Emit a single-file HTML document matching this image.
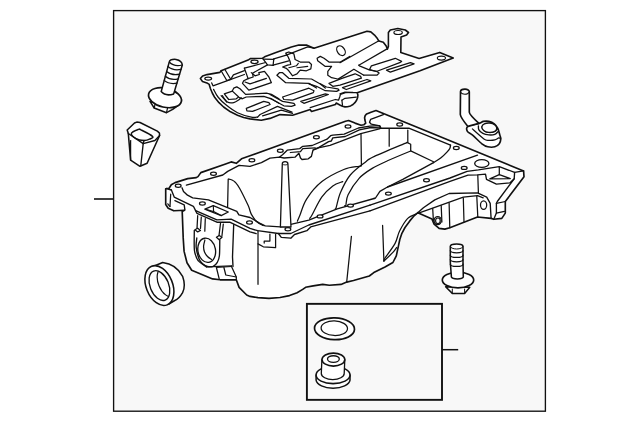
<!DOCTYPE html>
<html><head><meta charset="utf-8"><title>Oil pan</title>
<style>html,body{margin:0;padding:0;background:#fff;}svg{display:block}</style></head>
<body><svg width="640" height="422" viewBox="0 0 640 422">
<rect x="0" y="0" width="640" height="422" fill="#ffffff"/>
<g stroke="#111111" stroke-linejoin="round" stroke-linecap="round" fill="none">
<rect x="113.6" y="10.6" width="431.8" height="400.6" fill="#f8f8f8" stroke-width="1.35" stroke-linejoin="miter"/>
<path d="M94 199 H113.6" stroke-width="1.6" stroke-linecap="butt"/>
<path d="M442 349.7 H458.2" stroke-width="1.5" stroke-linecap="butt"/>
<rect x="306.9" y="303.85" width="135.1" height="96" fill="none" stroke-width="1.9" stroke-linejoin="miter"/>
<ellipse cx="334.5" cy="328.7" rx="20.0" ry="10.9" fill="#ffffff" stroke-width="1.7" transform="rotate(2 334.5 328.7)"/>
<ellipse cx="334.3" cy="328.2" rx="13.2" ry="7.3" fill="#ffffff" stroke-width="1.25" transform="rotate(2 334.3 328.2)"/>
<path d="M316.1 375 V380.2 A17 8.6 0 0 0 350 380.2 V375 Z" fill="#ffffff" stroke-width="1.5"/>
<ellipse cx="333.05" cy="375" rx="16.95" ry="8.6" fill="#ffffff" stroke-width="1.55"/>
<path d="M321.9 359.6 L321.3 373.5 A11.4 6 0 0 0 344.2 373.5 L344.8 359.6 Z" fill="#ffffff" stroke-width="1.3"/>
<ellipse cx="333.4" cy="359.6" rx="11.4" ry="6.5" fill="#ffffff" stroke-width="1.55"/>
<ellipse cx="333.4" cy="359.0" rx="5.9" ry="3.3" fill="#ffffff" stroke-width="1.35"/>
<path d="M445.6 286.8 L452.3 293.4 H464.6 L469.8 287.2 Z" fill="#ffffff" stroke-width="1.5"/>
<path d="M452.3 289 V293.4 M464.6 289 V293.4" stroke-width="1"/>
<ellipse cx="458" cy="280" rx="15.7" ry="7.8" fill="#ffffff" stroke-width="1.65"/>
<path d="M450.3 246.4 L450.3 262 L451.4 277 A6 2.2 0 0 0 463.3 277 L463 262 L463 246.4 A6.35 2.4 0 0 0 450.3 246.4 Z" fill="#ffffff" stroke-width="1.55"/>
<path d="M450.3 246.6 A6.35 2.4 0 0 0 463 246.6" stroke-width="1"/>
<path d="M450.3 250.6 A6.35 2.2 0 0 0 463 250.6" stroke-width="1.25"/>
<path d="M450.3 255.2 A6.35 2.2 0 0 0 463 255.2" stroke-width="1.25"/>
<path d="M450.3 259.6 A6.35 2.2 0 0 0 463 259.6" stroke-width="1.25"/>
<path d="M450.3 264.2 A6.35 2.2 0 0 0 463 264.2" stroke-width="1.25"/>
<path d="M150 101.4 L154.2 108 L166.5 112.7 L172.7 109.4 L177.5 106 Z" fill="#ffffff" stroke-width="1.5"/>
<path d="M155.2 103.7 L154.2 108 M167.5 108.2 L166.5 112.7" stroke-width="1.2"/>
<ellipse cx="165.0" cy="97.7" rx="16.8" ry="9.5" fill="#ffffff" stroke-width="1.7" transform="rotate(13 165.0 97.7)"/>
<path d="M169.3 61.9 L161.2 91.6 Q165.5 96.6 173.7 93.9 L182.3 65 Q182 60.5 176 59.4 Q170 59 169.3 61.9 Z" fill="#ffffff" stroke-width="1.55"/>
<path d="M169.3 62 Q174 67 182.2 65" stroke-width="1.2"/>
<path d="M168.0 66.5 Q173 71 181.0 69.4" stroke-width="1.25"/>
<path d="M166.6 71.5 Q172 76 179.6 74.2" stroke-width="1.25"/>
<path d="M165.3 76.2 Q170.5 80.6 178.2 78.8" stroke-width="1.25"/>
<path d="M164.2 80.4 Q169 84.6 177 83.2" stroke-width="1.25"/>
<path d="M127.2 130.0 L134.5 123 L136.8 122.1 L140 122.5 L157.3 131.1 L159.4 133 L159.6 135.5 L147.1 163.2 L140 166.3 L130.6 160.1 L128.3 133.5 Z" fill="#ffffff" stroke-width="1.55" />
<path d="M131.4 133.3 C131.8 131.8 136.7 130.0 138.3 129.4 C139.9 128.8 138.6 128.7 141 129.9 C143.4 131.1 151.2 134.9 152.6 136.4 C154.0 137.9 150.9 138.5 149.5 139.2 C148.1 139.9 146.2 140.6 144 140.5 C141.8 140.4 138.1 139.8 136 138.6 C133.9 137.4 131.0 134.8 131.4 133.3 Z" fill="none" stroke-width="1.45" />
<path d="M128.3 133.5 L143.2 143.6 L154.9 140.5 L159.6 135.5" fill="none" stroke-width="1.35" />
<path d="M143.2 143.6 L140.8 165.6" fill="none" stroke-width="1.35" />
<path d="M144 140.5 L143.2 143.6" fill="none" stroke-width="1.35" />
<path d="M130.6 140.5 L130.6 160.1" fill="none" stroke-width="1.25" />
<path d="M150.5 267.5 L162.7 262.5 Q176 264 182.6 276.3 Q186 286 182.6 292.7 Q179 299 174.8 300.5 L168.4 304.3 Z" fill="#ffffff" stroke-width="1.5"/>
<ellipse cx="159.4" cy="285.6" rx="13.2" ry="20.8" fill="#ffffff" stroke-width="1.55" transform="rotate(-22 159.4 285.6)"/>
<ellipse cx="159.4" cy="285.6" rx="9.3" ry="15.6" fill="#ffffff" stroke-width="1.35" transform="rotate(-22 159.4 285.6)"/>
<clipPath id="sealclip"><ellipse cx="159.4" cy="285.6" rx="9.3" ry="15.6" transform="rotate(-22 159.4 285.6)"/></clipPath>
<g clip-path="url(#sealclip)"><ellipse cx="159.4" cy="285.6" rx="9.3" ry="15.6" transform="translate(8.2 -3.4) rotate(-22 159.4 285.6)" stroke-width="1.2" transform-origin="0 0"/></g>
<path d="M467.9 126.4 C466.0 127.7 466.6 129.9 467.4 131.4 C468.2 132.9 470.5 133.3 472.9 135.4 C475.3 137.5 479.4 141.9 481.9 143.8 C484.4 145.7 485.6 146.3 487.8 146.8 C490.0 147.3 492.9 147.3 494.8 146.8 C496.7 146.3 498.3 145.1 499.3 143.8 C500.3 142.5 500.7 140.4 500.8 138.9 C500.9 137.4 500.3 136.7 499.8 134.9 C499.3 133.2 498.7 130.2 497.8 128.4 C496.9 126.6 495.8 125.1 494.3 123.9 C492.8 122.7 490.6 121.8 488.8 121.4 C487.0 121.0 485.0 121.1 483.4 121.4 C481.8 121.7 481.5 122.6 478.9 123.4 C476.3 124.2 469.8 125.1 467.9 126.4 Z" fill="#ffffff" stroke-width="1.65" />
<path d="M460.5 91.6 L460.3 114.5 Q460.6 117.5 467.9 126.4 L478.9 123.4 Q469.4 114.5 469.3 112.2 L469.3 91.8 A4.4 2.6 0 0 0 460.5 91.6 Z" fill="#ffffff" stroke-width="1.65"/>
<path d="M460.6 92.2 C460.9 92.5 461.8 93.5 462.5 93.8 C463.2 94.1 464.2 94.2 465 94.2 C465.8 94.2 466.8 94.0 467.5 93.7 C468.2 93.4 468.9 92.5 469.2 92.3" fill="none" stroke-width="1.15" />
<path d="M472.4 128.9 C474.3 130.6 481.2 137.0 483.9 138.9 C486.6 140.8 487.0 140.1 488.8 140.3 C490.6 140.5 493.1 140.3 494.8 139.9 C496.5 139.5 497.8 138.1 498.8 137.9 C499.8 137.7 500.3 138.5 500.6 138.6" fill="none" stroke-width="1.25" />
<path d="M478.4 125.9 C478.5 126.6 478.1 128.7 478.9 129.9 C479.6 131.2 481.2 132.6 482.9 133.4 C484.5 134.2 486.8 134.7 488.8 134.9 C490.8 135.1 493.2 135.0 494.8 134.4 C496.4 133.8 497.7 131.9 498.3 131.4" fill="none" stroke-width="1.35" />
<path d="M481.9 126.9 C482.2 127.5 482.8 129.5 483.9 130.4 C485.0 131.3 487.0 132.2 488.8 132.4 C490.6 132.6 493.4 132.0 494.8 131.4 C496.2 130.8 496.9 129.3 497.3 128.9" fill="none" stroke-width="1.35" />
<ellipse cx="489.3" cy="127.7" rx="7.5" ry="4.7" fill="#ffffff" stroke-width="1.35" transform="rotate(6 489.3 127.7)"/>
<path d="M171.3 184.8 L175.1 182.6 L187.7 178.6 L196.3 177.6 L198 176.6 L200.8 172.6 L224.9 164.2 L231.1 161.9 L236.3 163.3 L241.5 158.8 L250 155.8 L345.5 121.2 L348.6 120.5 L355 123.1 L361 125.2 L364 124.7 L365.7 123.1 L364.9 120 L364.6 117.8 L365.2 115.5 L366.7 113.9 L371 112.2 L376 110.5 L430 132.6 L523.6 171 L524 176.7 L505.3 201.5 L505.3 213.1 L501.8 218.4 L493.8 219.3 L491.1 218.4 L477.5 217 L449.8 227.7 L444.8 229.1 L439.1 228.4 L434.1 224.1 L432 219.1 L417.8 212.7 L413.5 216.5 L409.8 220.9 L405 227.5 L401.9 233.3 L399.8 239.5 L398.5 245.6 L396.3 255.8 L392.9 262.5 L385 267 L373.8 272.6 L369.3 276 L353.5 280.5 L346.7 282.1 L341 284.4 L329.3 285.2 L322.7 284.4 L313.2 285.9 L305.6 287.3 L302.7 289.4 L297.1 292.7 L289.5 295.6 L280 297.5 L269 298.4 L258 297.6 L250 296.4 L246.7 295 L239.1 287.4 L236.3 279.8 L220.1 279.8 L212.6 278.9 L191.7 270.3 L187 262.7 L184.1 251.4 L183.2 237.9 L182.2 211.4 L184.5 210.2 L173.8 210.8 L168.2 208.3 L165.7 204.5 L165.7 188.8 L169.1 188.2 Z" fill="#ffffff" stroke-width="1.65" />
<path d="M171.4 190 L172.8 193.5 L174.2 197.1 L193.4 206.3 L195.6 210.6 L216.9 219.8 L231.1 219.1 L250 228.4 L257.6 230.7 L278.4 233.5 L290.8 233.5 L308.8 225 L370 205.1" fill="none" stroke-width="1.35" />
<path d="M174.9 200.6 L184.2 204.9 L184.9 209.9" fill="none" stroke-width="1.35" />
<path d="M195.6 210.6 L197 213.4 L216.9 222.2 L229.7 222.2 L250 231.9 L256.2 233.6" fill="none" stroke-width="1.35" />
<path d="M166.4 188.5 L171.4 190" fill="none" stroke-width="1.35" />
<path d="M170.7 194.2 L170 206.3" fill="none" stroke-width="1.25" />
<path d="M167.8 203.8 L170 206.6" fill="none" stroke-width="1.25" />
<path d="M204.8 209.2 L213.3 205.6 L228.3 212 L221.2 215.6 Z" fill="none" stroke-width="1.25" />
<path d="M213.3 205.6 L213.6 211.6 L221.2 215.6" fill="none" stroke-width="1.15" />
<path d="M213.6 211.6 L206.5 209.5" fill="none" stroke-width="1.15" />
<path d="M278.4 233.5 L281.3 237.3 L290.8 238.2 L294.5 234.5 L306.9 230.7 L310.7 226.9 L370 210.8" fill="none" stroke-width="1.35" />
<path d="M186.4 185.1 L222.8 175 L227.7 171.4 L239.1 165.3 L250 166.4 L261.4 162.6 L270 158.2 L279.4 157.2 L284.1 158 L295 157.2 L298.9 153.3 L300.5 158 L302 159.5 L308.3 158.8 L311.4 156.4 L313 150.2 L316.9 148.6 L328.6 141.6 L331.3 141 L332.8 137.9 L345.2 136.5 L359.4 129.8 L370.8 127.5 L380.2 128" fill="none" stroke-width="1.35" />
<path d="M279.4 157.2 L282.5 154.8 L287.2 150.2 L299.7 148.6 L302.8 146.3 L312.2 145.5 L327 139.2 L330.6 135.7 L332.8 135.1 L344.2 134.1 L358.4 128 L369.8 126.1 L379.3 125.6 L380.7 127.5" fill="none" stroke-width="1.35" />
<path d="M290.3 152.5 L300.5 151.7 L302.8 148.6 L315.3 147.8" fill="none" stroke-width="1.25" />
<path d="M313.3 149.8 L317.1 148.1 L330 145.3 L340 141.7 L360.8 133.6 L379.3 128.9 L380.3 128.4" fill="none" stroke-width="1.25" />
<path d="M182 187.8 L183.5 191.4 L187.5 195.2 L192.7 197.8 L208.4 199.9 L236.8 211.3 L238.9 214.9 L250 217.5 L259.5 223.1 L265.2 225.9 L280.3 226.9 L308.8 220.2 L337.2 208.9 L374.1 198.5" fill="none" stroke-width="1.35" />
<path d="M228.2 179.2 L227.6 207" fill="none" stroke-width="1.25" />
<path d="M228.6 179.1 C229.2 179.2 230.8 179.4 232 180 C233.2 180.6 234.2 181.1 235.5 182.5 C236.8 183.9 237.6 184.7 239.7 188.5 C241.8 192.3 246.2 201.3 248.2 205.6 C250.1 209.9 249.9 211.7 251.4 214.4 C252.9 217.1 255.2 220.2 257.2 222 C259.2 223.8 262.3 224.9 263.3 225.5" fill="none" stroke-width="1.25" />
<path d="M282.3 163.8 L280.4 227 L291 227 L287.9 163.8 A2.8 2.2 0 0 0 282.3 163.8 Z" fill="#ffffff" stroke-width="1.3"/>
<path d="M282.4 164 A2.8 1.3 0 0 0 287.8 164" stroke-width="0.9"/>
<ellipse cx="178.2" cy="185.7" rx="2.9" ry="1.6" fill="#ffffff" stroke-width="1.25"/>
<ellipse cx="213.5" cy="173.7" rx="2.9" ry="1.6" fill="#ffffff" stroke-width="1.25"/>
<ellipse cx="251.9" cy="160.3" rx="2.9" ry="1.6" fill="#ffffff" stroke-width="1.25"/>
<ellipse cx="280.3" cy="150.8" rx="2.9" ry="1.6" fill="#ffffff" stroke-width="1.25"/>
<ellipse cx="316.4" cy="137.3" rx="2.9" ry="1.6" fill="#ffffff" stroke-width="1.25"/>
<ellipse cx="348" cy="126.5" rx="2.9" ry="1.6" fill="#ffffff" stroke-width="1.25"/>
<ellipse cx="399.7" cy="124.4" rx="2.9" ry="1.6" fill="#ffffff" stroke-width="1.25"/>
<ellipse cx="456.3" cy="148" rx="2.9" ry="1.6" fill="#ffffff" stroke-width="1.25"/>
<ellipse cx="426.5" cy="180.2" rx="2.9" ry="1.6" fill="#ffffff" stroke-width="1.25"/>
<ellipse cx="249.5" cy="222.5" rx="2.9" ry="1.6" fill="#ffffff" stroke-width="1.25"/>
<ellipse cx="287.9" cy="229.3" rx="2.9" ry="1.6" fill="#ffffff" stroke-width="1.25"/>
<ellipse cx="320.1" cy="216.4" rx="2.9" ry="1.6" fill="#ffffff" stroke-width="1.25"/>
<ellipse cx="350.5" cy="205.6" rx="2.9" ry="1.6" fill="#ffffff" stroke-width="1.25"/>
<ellipse cx="202.4" cy="203.5" rx="2.9" ry="1.6" fill="#ffffff" stroke-width="1.25"/>
<ellipse cx="388.4" cy="193.6" rx="2.9" ry="1.6" fill="#ffffff" stroke-width="1.25"/>
<ellipse cx="464.2" cy="167.9" rx="2.9" ry="1.6" fill="#ffffff" stroke-width="1.25"/>
<ellipse cx="481.8" cy="163.5" rx="7.1" ry="3.9" fill="#ffffff" stroke-width="1.35"/>
<path d="M297.4 221.2 C297.8 220.2 298.5 218.7 300 215 C301.5 211.3 303.0 204.7 306.6 199.1 C310.2 193.5 315.7 186.5 321.9 181.6 C328.1 176.7 337.6 172.1 343.8 169.5 C350.0 166.9 356.2 166.9 359.1 166.3 C362.0 165.7 361.0 165.9 361.4 165.8" fill="none" stroke-width="1.25" />
<path d="M309.7 218.3 C310.1 217.8 310.0 218.6 312 215 C314.0 211.4 318.4 201.8 321.9 196.9 C325.4 192.1 329.3 188.5 332.8 185.9 C336.3 183.3 341.1 182.3 342.7 181.6" fill="none" stroke-width="1.25" />
<path d="M335.3 208.9 C335.4 208.7 335.2 210.5 336.1 207.8 C337.0 205.1 338.1 198.0 340.5 192.5 C342.9 187.0 346.1 180.1 350.3 175 C354.5 169.9 361.6 165.0 365.6 161.9 C369.6 158.8 367.5 159.6 374.4 156.4 C381.3 153.2 401.5 144.9 406.9 142.6" fill="none" stroke-width="1.25" />
<path d="M344.8 205.6 C345.0 205.5 345.3 206.8 345.9 205.0 C346.4 203.2 345.9 199.1 348.1 194.7 C350.3 190.2 355.1 182.7 359.1 178.3 C363.1 173.9 367.5 171.3 372.2 168.4 C376.9 165.5 381.1 163.7 387.5 160.8 C393.9 157.9 406.8 152.6 410.7 151" fill="none" stroke-width="1.25" />
<path d="M258 230.9 L258 284.3" fill="none" stroke-width="1.25" />
<path d="M351.4 236.4 L346.7 282.1" fill="none" stroke-width="1.25" />
<path d="M374.1 198.5 L375.5 198 L379.9 191.4 L387.5 187 L477.5 155.2" fill="none" stroke-width="1.35" />
<path d="M370 205.1 L450 178 L467.1 171.3 L478.4 169.9 L499.3 166.6 L514.6 172.4 L523.6 170.8" fill="none" stroke-width="1.35" />
<path d="M370 210.8 L450 181.3 L468 175.1 L477.5 174.8 L485.5 174.2 L486.5 179.4 L496.4 184.1 L509.8 182.9 L514.2 178.8 L514.6 172.4" fill="none" stroke-width="1.35" />
<path d="M514.2 178.8 L497.3 201.5 L496.4 203.3 L496.4 213.1 L493.8 219.3" fill="none" stroke-width="1.35" />
<path d="M496.4 203.3 L505.3 201.5" fill="none" stroke-width="1.25" />
<path d="M496.4 213.1 L504.4 211.4" fill="none" stroke-width="1.25" />
<path d="M489.8 178.9 L499.3 174.6 L510.3 178.6 Z" fill="none" stroke-width="1.25" />
<path d="M499.3 167 L499.3 174.6" fill="none" stroke-width="1.25" />
<path d="M383.4 114.6 L370.6 119.4 L369.5 122.2 L371.3 124.2 L379.9 125.9 L380.3 128.2 L408.8 128.2 L450.5 145.2" fill="none" stroke-width="1.35" />
<path d="M450.5 145.2 C450.4 145.8 450.4 147.3 449.8 148.5 C449.2 149.7 448.2 150.8 446.7 152.4 C445.2 154.0 443.2 156.1 441 157.8 C438.8 159.5 434.8 161.8 433.5 162.6" fill="none" stroke-width="1.35" />
<path d="M433.5 162.6 L402.8 179.4 L387.5 187" fill="none" stroke-width="1.35" />
<path d="M361 133.8 L361.4 165.6" fill="none" stroke-width="1.25" />
<path d="M389.2 128.7 L389.2 146.2" fill="none" stroke-width="1.25" />
<path d="M407.8 130.1 L407.8 142.4" fill="none" stroke-width="1.25" />
<path d="M406.9 142.4 L410.7 144.3 L410.7 150.9 L433.5 161.8" fill="none" stroke-width="1.25" />
<path d="M417.8 212.7 L423.4 207.8 L434.8 199.9 L449.1 193.5 L477.5 192.8 L486.7 197.1 L490.2 203.3 L491.1 218.4" fill="none" stroke-width="1.35" />
<path d="M417.8 213.4 L433.4 207.8 L463.3 197.1 L477.5 195.7 L483.2 197.8" fill="none" stroke-width="1.25" />
<path d="M477.8 175.2 L478.4 192.7" fill="none" stroke-width="1.25" />
<path d="M432.7 208.5 L433.4 220.6" fill="none" stroke-width="1.25" />
<path d="M441.2 205.6 L441.9 222" fill="none" stroke-width="1.25" />
<path d="M449.1 202.8 L449.8 227.7" fill="none" stroke-width="1.25" />
<path d="M463.3 197.8 L464 222" fill="none" stroke-width="1.25" />
<path d="M476.8 196.4 L477.8 217" fill="none" stroke-width="1.25" />
<ellipse cx="437.7" cy="220.6" rx="3.6" ry="4.1" fill="#ffffff" stroke-width="1.25"/>
<ellipse cx="437.9" cy="220.8" rx="2.3" ry="2.8" fill="#ffffff" stroke-width="1.15"/>
<ellipse cx="483.6" cy="205.1" rx="3.1" ry="4.3" fill="#ffffff" stroke-width="1.25"/>
<path d="M417.8 213.2 C416.1 214.1 410.5 215.6 407.5 218.6 C404.5 221.6 401.7 226.9 399.6 231 C397.5 235.1 397.5 238.9 395.1 243.4 C392.7 247.9 386.9 255.1 385 258 C383.1 260.9 384.1 260.3 383.9 260.8" fill="none" stroke-width="1.25" />
<path d="M383.9 261 C385.4 259.6 390.8 254.7 392.9 252.4 C395.0 250.2 396.0 248.3 396.6 247.5" fill="none" stroke-width="1.25" />
<path d="M382.6 225.4 L383.9 261" fill="none" stroke-width="1.25" />
<path d="M197.7 215.6 L197 228.4" fill="none" stroke-width="1.25" />
<path d="M201.3 217 L200.5 228.4" fill="none" stroke-width="1.25" />
<path d="M220.5 223.4 L219 235.5" fill="none" stroke-width="1.25" />
<path d="M223.3 224.1 L221.9 236.2" fill="none" stroke-width="1.25" />
<path d="M194.9 229.8 L197.7 228.2 L200.5 230.5 L197.7 231.9 Z" fill="none" stroke-width="1.25" />
<path d="M216.4 237.3 L219.2 235.4 L222 237.3 L219.2 239.8 Z" fill="none" stroke-width="1.25" />
<path d="M194.3 230.3 C194.3 232.8 194.1 241.3 194.2 245 C194.3 248.7 194.1 249.9 194.8 252.5 C195.5 255.1 196.2 258.3 198.2 260.7 C200.1 263.1 205.1 265.9 206.5 266.9" fill="none" stroke-width="1.35" />
<path d="M206.5 266.9 L231.5 265.8" fill="none" stroke-width="1.35" />
<path d="M196.8 238 C196.7 239.6 195.8 243.9 196.2 247.4 C196.6 250.9 198.0 256.2 199.1 259 C200.2 261.8 201.6 262.8 203 264 C204.4 265.2 205.7 266.1 207.4 266.5 C209.1 266.9 211.5 267.0 213.2 266.3 C214.8 265.6 216.3 264.2 217.3 262.4 C218.3 260.6 219.0 259.4 219.4 255.7 C219.8 252.0 219.7 242.6 219.8 240" fill="none" stroke-width="1.35" />
<path d="M233.7 224.6 L232.5 256.9 L233 266.5" fill="none" stroke-width="1.35" />
<ellipse cx="206.7" cy="250.3" rx="8.8" ry="12.2" fill="#ffffff" stroke-width="1.35" transform="rotate(-10 206.7 250.3)"/>
<path d="M204.9 240 C204.7 241.0 203.7 244.0 203.6 246 C203.5 248.0 203.8 250.2 204.5 252 C205.2 253.8 206.3 255.2 207.5 256.5 C208.7 257.8 210.8 259.0 211.5 259.5" fill="none" stroke-width="1.25" />
<path d="M216.4 267.5 L231.5 266.5" fill="none" stroke-width="1.25" />
<path d="M216.4 267.5 L219.2 278.9" fill="none" stroke-width="1.25" />
<path d="M223.9 267.5 L225.8 275 L236.3 277" fill="none" stroke-width="1.25" />
<path d="M231.5 266.5 L236.3 277 L236.3 279.8" fill="none" stroke-width="1.25" />
<path d="M275.6 234 L275.6 247.7 L263.3 246.8 L258 243.9" fill="none" stroke-width="1.25" />
<path d="M269.9 234 L269.9 241.1 L264.2 241.1 L264.2 243" fill="none" stroke-width="1.25" />
<path d="M205.3 218.6 L204.8 231.2" fill="none" stroke-width="1.25" />
<path d="M200.4 78.6 L202.6 75.9 L207 74.6 L219.9 72.4 L221.1 70.7 L248.1 60.1 L250.3 58.6 L262.3 58.3 L264.6 56.8 L270 54.8 L276 52.6 L291.4 46.9 L298.8 45 L306.4 45.1 L314 48.2 L367 31.3 L370.8 31.9 L374.5 35.1 L377.4 38.6 L378.9 41.1 L383.3 42.3 L386.2 46.1 L387.5 49.1 L388.4 46.4 L388.4 32.5 L390.3 30 L397.8 28.5 L405.3 30 L408.5 32.5 L406.6 35 L401 36.9 L400.8 52.6 L419.1 58.4 L439.7 52.4 L453.2 58.1 L420 70.7 L357.2 92.7 L357.9 95 L357.6 97.7 L356.6 100.2 L354.9 102.7 L353 104.5 L350.6 105.9 L347.5 106.7 L345 106.9 L342.5 106.3 L340.3 105.3 L338 104 L336.3 103 L335.4 104.5 L311.5 111.5 L310.2 109.6 L292.6 115.2 L280 114.6 L270 118.4 L261.3 120.2 L250 118.9 L243.7 117.5 L237.5 115.2 L230.5 111.8 L223.6 107 L219 102.7 L214.8 97.6 L212.3 93 L210.5 88.8 L209.2 84.4 L206.9 82.9 L202.5 81.5 Z" fill="#ffffff" stroke-width="1.6" />
<ellipse cx="208.2" cy="78.6" rx="3.4" ry="1.5" fill="#ffffff" stroke-width="1.25"/>
<path d="M221.1 70.7 L226.8 80.5 L230.7 79.3 L224.9 69.5" fill="none" stroke-width="1.25" />
<path d="M230.7 79.3 L233.4 74.9 L244.4 70.7" fill="none" stroke-width="1.25" />
<path d="M211.7 82.9 L213.0 85.8 L226.8 80.8 L244.4 74.5" fill="none" stroke-width="1.25" />
<path d="M244.4 68.2 L251.3 66.3 L265.6 62.5" fill="none" stroke-width="1.25" />
<path d="M244.4 68.2 L248.1 78.6 L253.2 77 L252.5 73.2 L267.5 64.9" fill="none" stroke-width="1.25" />
<path d="M251.3 72.6 L255.0 75.8 L259.4 74.5 L258.8 72.6 L264.5 71.4 L268.9 77.0 L271.4 82.7 L248.8 90.2 L242.5 83.3 L243.7 80.8 L248.1 78.6" fill="none" stroke-width="1.25" />
<path d="M245.0 82.0 L250.0 83.9 L266.4 78.3" fill="none" stroke-width="1.25" />
<path d="M263.2 59.2 L267.5 64.9 L273.2 65.4" fill="none" stroke-width="1.25" />
<path d="M263.2 59.2 L273.7 59.4" fill="none" stroke-width="1.25" />
<ellipse cx="254.5" cy="61.8" rx="3.6" ry="1.7" fill="#ffffff" stroke-width="1.25"/>
<path d="M213.6 89.4 C214.3 90.7 215.9 94.4 218.0 97.0 C220.1 99.6 222.9 102.5 226.2 105.1 C229.4 107.7 233.3 110.7 237.5 112.7 C241.7 114.7 248.0 116.4 251.3 117.1 C254.7 117.8 256.6 117.1 257.6 117.1" fill="none" stroke-width="1.25" />
<path d="M257.6 117.1 L260.1 114.5 L277.5 106.4 L292 112.1" fill="none" stroke-width="1.25" />
<path d="M224.3 93.8 L232.4 91.1 L238.7 97.0 L236.2 98.8 L228.7 99.5 Z" fill="none" stroke-width="1.25" />
<path d="M222.4 95.7 C223.2 96.8 225.5 100.8 227.4 102.0 C229.3 103.2 231.7 103.0 233.7 102.6 C235.7 102.2 238.1 100.3 239.3 99.5 C240.6 98.7 240.9 97.9 241.2 97.6" fill="none" stroke-width="1.25" />
<path d="M232.4 90.7 L233.7 88.2 L236.8 86.9 L240.0 88.8 L245.6 94.4 L266.4 93.2 L271.4 94.4 L278.9 98.8" fill="none" stroke-width="1.25" />
<path d="M239.3 97.6 L241.9 98.8 L246.3 97.0 L263.8 96.3 L271.4 98.8 L278.9 103.2" fill="none" stroke-width="1.25" />
<path d="M246.3 108.3 L263.8 101.4 L268.9 102.6 L270.1 104.5 L252.5 111.4 L246.9 110.8 Z" fill="none" stroke-width="1.25" />
<path d="M262.6 115.8 L281.3 110.2 L292.6 113.3" fill="none" stroke-width="1.25" />
<path d="M286.3 55.1 L307.7 46.9 L314.0 48.2" fill="none" stroke-width="1.25" />
<path d="M273.8 58.9 L286.3 55.1" fill="none" stroke-width="1.25" />
<path d="M273.1 65.2 L288.8 60.8" fill="none" stroke-width="1.25" />
<path d="M273.8 58.9 L273.1 65.2" fill="none" stroke-width="1.25" />
<path d="M285.7 53.2 L288.8 52.0 L293.9 53.8 L295.1 59.5 L300.2 62.0 L308.9 62.0 L311.5 64.5 L310.8 68.9 L306.4 70.8 L300.2 70.2 L297.0 73.9 L292.6 75.8 L288.8 70.8 L286.3 68.3 L282.6 67.0 L287.6 65.2 L290.7 64.5 L290.1 61.4 L288.2 57.0 Z" fill="none" stroke-width="1.25" />
<path d="M288.8 67.7 L296.4 65.8 L298.3 63.3" fill="none" stroke-width="1.15" />
<path d="M297.0 67.7 L307.7 66.4" fill="none" stroke-width="1.15" />
<path d="M350.0 56.4 L340.4 62.0 L329.0 62.0 L324.0 58.2 L320.3 56.4 L317.1 58.2 L317.7 60.8 L325.3 66.4 L331.6 66.4 L327.8 71.4 L327.8 75.2 L331.6 77.7 L337.8 79.0 L338.1 79.1 L353.9 69.2 L363.8 75.2" fill="none" stroke-width="1.25" />
<ellipse cx="341" cy="50.7" rx="3.7" ry="5.3" fill="#ffffff" stroke-width="1.25" transform="rotate(-35 341 50.7)"/>
<path d="M325.3 88.0 L320.3 84.0 L311.5 79.0 L288.8 78.3 L282.6 72.7 L279.4 72.7 L276.9 75.2 L285.7 82.7 L308.9 83.4 L316.5 88.0" fill="none" stroke-width="1.25" />
<path d="M378.9 40.7 L340.0 62.7" fill="none" stroke-width="1.25" />
<path d="M387.1 48.9 L358.8 65.2" fill="none" stroke-width="1.25" />
<ellipse cx="398.1" cy="32.5" rx="4.2" ry="2.0" fill="#ffffff" stroke-width="1.15"/>
<path d="M371.4 65.8 L395.3 58.3 L401.6 61.4 L399.7 62.7 L376.4 71.5 L369.5 69.6 Z" fill="none" stroke-width="1.25" />
<path d="M386.5 70.2 L410.4 62.7 L414.1 63.9 L390.3 72.1 Z" fill="none" stroke-width="1.25" />
<path d="M358.8 65.2 L359.4 65.9 L369.2 69.8 L376.9 71.4 L379.1 73.1 L376.9 75.2 L363.8 75.2" fill="none" stroke-width="1.25" />
<ellipse cx="441.4" cy="58.1" rx="4.1" ry="2.0" fill="#ffffff" stroke-width="1.1"/>
<path d="M282.6 97.0 L308.9 88.2 L314.0 90.7 L313.3 92.6 L292.6 100.2 L283.8 99.5 Z" fill="none" stroke-width="1.25" />
<path d="M300.8 101.4 L325.3 93.9 L328.4 94.5 L303.9 103.3 Z" fill="none" stroke-width="1.25" />
<path d="M310.2 107.7 L335.3 99.5 L338.5 100.2 L339.7 97.0 L340.4 94.5 L345.4 92.6 L352.9 92.4" fill="none" stroke-width="1.25" />
<path d="M270.0 94.5 L282.6 101.4 L293.9 103.3 L295.1 105.2 L291.4 106.4 L283.8 105.8 L270.0 98.3" fill="none" stroke-width="1.25" />
<path d="M320.3 83.8 L326.5 87.0 L337.8 88.8 L339.1 90.1 L336.6 91.4 L325.3 90.7 L316.5 86.3 L308.9 83.8" fill="none" stroke-width="1.25" />
<path d="M341.9 100.2 L345.0 98.3 L356.3 97.1" fill="none" stroke-width="1.25" />
<path d="M341.9 100.2 L342.5 105.3" fill="none" stroke-width="1.25" />
<path d="M340.0 93.9 L345.0 92.1 L352.6 92.7 L357.6 92.7" fill="none" stroke-width="1.25" />
<path d="M342.5 87.7 L367.0 79.5 L370.8 80.8 L346.3 89.5 Z" fill="none" stroke-width="1.25" />
<path d="M329 83.4 L341.9 78.3 L355.1 73.8 L360.7 76.4 L361.4 78.2 L340 85.2 L332.8 86.3 Z" fill="none" stroke-width="1.25" />
<path d="M221.1 95.7 L226.8 102.0" fill="none" stroke-width="1.25" />
</g></svg></body></html>
